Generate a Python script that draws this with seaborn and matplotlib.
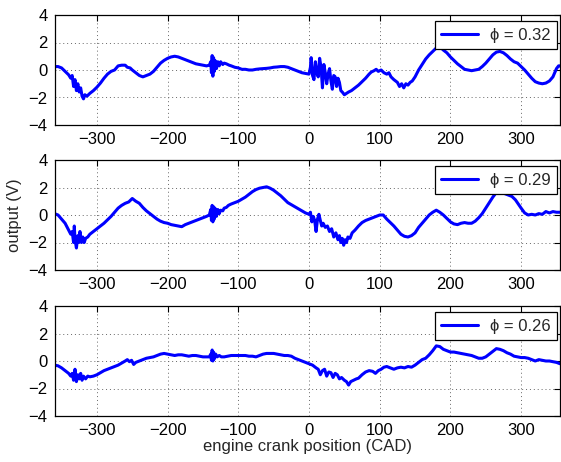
import matplotlib
matplotlib.use("Agg")
import matplotlib.pyplot as plt
import seaborn as sns
import pandas as pd

# crank angle (CAD) and sensor output (V) for each equivalence ratio
x_032 = [-360, -355, -350, -345, -340, -337, -335, -333, -331, -329, -327, -325, -323, -321, -319, -317,
         -314, -310, -305, -300, -295, -290, -285, -280, -275, -270, -265, -260, -257, -253, -250, -245,
         -240, -235, -230, -225, -220, -215, -210, -205, -200, -195, -190, -185, -180, -175, -170, -165,
         -160, -155, -150, -145, -141, -139, -138, -137, -136, -135, -134, -133, -131, -129, -127, -125,
         -122, -120, -117, -113, -110, -105, -100, -95, -90, -85, -80, -75, -70, -65, -60, -55, -50, -45,
         -40, -35, -30, -25, -20, -15, -10, -5, 0, 2, 3, 5, 7, 9, 11, 13, 15, 17, 19, 21, 23, 25, 27, 29,
         31, 33, 35, 37, 39, 41, 43, 45, 47, 50, 53, 56, 60, 65, 70, 75, 80, 85, 88, 92, 95, 98, 102, 106,
         110, 113, 116, 120, 125, 128, 131, 134, 137, 140, 143, 146, 150, 155, 160, 165, 170, 175, 180,
         185, 190, 195, 200, 205, 210, 215, 220, 225, 230, 235, 240, 245, 250, 255, 260, 265, 270, 275,
         280, 285, 290, 295, 300, 305, 310, 315, 320, 325, 330, 335, 340, 345, 350, 353, 355]
y_032 = [0.25, 0.25, 0.15, -0.1, -0.35, -0.6, -0.4, -1.2, -0.7, -1.5, -1.0, -1.6, -1.3, -1.9, -2.1, -1.8,
         -1.9, -1.7, -1.5, -1.25, -0.95, -0.6, -0.3, -0.1, 0.0, 0.3, 0.35, 0.35, 0.2, 0.15, 0.0, -0.2,
         -0.4, -0.5, -0.4, -0.3, -0.1, 0.2, 0.5, 0.7, 0.85, 0.95, 1.0, 0.95, 0.85, 0.75, 0.65, 0.55,
         0.45, 0.4, 0.35, 0.3, 0.35, 0.6, -0.2, 1.05, -0.45, 0.9, -0.1, 0.7, 0.1, 0.6, 0.3, 0.6,
         0.4, 0.5, 0.45, 0.35, 0.3, 0.2, 0.15, 0.05, 0.05, 0.0, 0.0, 0.05, 0.08, 0.1, 0.12, 0.15, 0.2, 0.22,
         0.25, 0.25, 0.2, 0.1, 0.0, -0.1, -0.2, -0.25, -0.3, 0.2, 0.9, -0.4, -0.7, 0.6, -0.2, -0.5, 0.85, 0.2,
         -1.3, 0.4, -0.2, -1.0, -0.3, 0.1, -0.8, -1.4, -0.4, -0.5, -1.2, -0.6, -0.9, -1.5, -1.6, -1.8, -1.7,
         -1.6, -1.5, -1.3, -1.1, -0.85, -0.6, -0.3, -0.15, -0.05, 0.05, -0.1, 0.0, -0.2, -0.3, -0.2, -0.5,
         -0.7, -0.9, -1.2, -1.0, -1.3, -1.0, -1.1, -0.9, -0.8, -0.5, 0.0, 0.4, 0.8, 1.1, 1.35, 1.6, 1.7,
         1.45, 1.25, 0.95, 0.7, 0.45, 0.25, 0.05, 0.0, -0.05, 0.0, 0.05, 0.25, 0.5, 0.8, 1.1, 1.3, 1.35,
         1.25, 1.05, 0.8, 0.6, 0.5, 0.25, 0.0, -0.3, -0.6, -0.85, -0.95, -1.0, -0.95, -0.8, -0.5, 0.1,
         0.3, 0.3]

x_029 = [-360, -355, -350, -345, -340, -337, -335, -333, -332, -331, -329, -327, -326, -324, -322, -320,
         -318, -316, -313, -310, -305, -300, -295, -290, -285, -280, -275, -270, -265, -260, -255, -250,
         -245, -240, -235, -230, -225, -220, -215, -210, -205, -200, -195, -190, -185, -180, -175, -170,
         -165, -160, -155, -150, -145, -141, -139, -138, -137, -136, -135, -134, -133, -131, -129, -127,
         -125, -122, -120, -117, -114, -110, -105, -100, -95, -90, -85, -80, -75, -70, -65, -60, -55, -50,
         -45, -40, -35, -30, -25, -20, -15, -10, -5, 0, 2, 4, 6, 8, 10, 12, 14, 16, 18, 20, 23, 26, 29, 32,
         35, 38, 41, 43, 45, 47, 49, 51, 53, 55, 58, 61, 65, 70, 75, 80, 85, 90, 95, 100, 105, 110, 115,
         120, 125, 130, 135, 140, 145, 150, 155, 160, 165, 170, 175, 180, 185, 190, 195, 200, 205, 210,
         215, 220, 225, 230, 235, 240, 245, 250, 255, 260, 265, 268, 272, 277, 282, 287, 292, 296, 300,
         305, 310, 315, 320, 325, 330, 335, 340, 345, 350, 355]
y_029 = [0.1, 0.0, -0.3, -0.6, -1.1, -1.4, -1.2, -2.0, -0.8, -1.8, -2.4, -1.5, -2.0, -1.2, -2.0, -1.6,
         -2.0, -1.7, -1.6, -1.4, -1.2, -1.0, -0.8, -0.6, -0.35, -0.1, 0.2, 0.5, 0.7, 0.85, 0.95, 1.2,
         1.0, 0.85, 0.55, 0.3, 0.1, -0.1, -0.3, -0.45, -0.55, -0.6, -0.7, -0.75, -0.8, -0.85, -0.7, -0.6,
         -0.5, -0.4, -0.3, -0.2, -0.1, 0.0, 0.4, -0.4, 0.7, -0.5, 0.6, -0.3, 0.5, -0.1, 0.4, 0.1,
         0.35, 0.3, 0.5, 0.55, 0.7, 0.8, 0.9, 1.0, 1.15, 1.3, 1.5, 1.7, 1.85, 1.95, 2.0, 2.05, 1.95, 1.8,
         1.6, 1.4, 1.15, 0.9, 0.75, 0.6, 0.45, 0.3, 0.15, 0.05, 0.2, -0.5, -0.1, -0.4, -1.2, -0.3, 0.05,
         -0.4, -0.8, -0.6, -0.9, -0.8, -1.2, -1.0, -1.6, -1.3, -1.8, -1.5, -2.0, -1.7, -2.2, -1.8, -2.0,
         -1.6, -1.7, -1.3, -1.1, -0.8, -0.55, -0.4, -0.3, -0.2, -0.1, 0.0, 0.0, -0.3, -0.55, -0.8, -1.1,
         -1.4, -1.55, -1.6, -1.5, -1.3, -0.9, -0.6, -0.3, 0.0, 0.2, 0.35, 0.2, 0.0, -0.25, -0.5, -0.65,
         -0.7, -0.6, -0.55, -0.6, -0.6, -0.45, -0.2, 0.1, 0.5, 0.9, 1.3, 1.65, 1.85, 1.7, 1.55, 1.45, 1.35,
         1.1, 0.8, 0.5, 0.15, 0.0, 0.05, 0.0, 0.1, 0.05, 0.25, 0.15, 0.25, 0.2, 0.2]

x_026 = [-360, -355, -350, -345, -340, -337, -335, -333, -331, -329, -327, -325, -323, -321, -319, -316,
         -313, -310, -305, -300, -295, -290, -285, -280, -275, -270, -265, -260, -257, -254, -251, -248,
         -245, -240, -235, -230, -225, -220, -215, -210, -205, -200, -195, -190, -185, -180, -175, -170,
         -165, -160, -155, -150, -145, -141, -139, -138, -137, -136, -135, -134, -132, -130, -127, -124,
         -120, -115, -110, -105, -100, -95, -90, -85, -80, -75, -70, -65, -60, -55, -50, -45, -40, -35,
         -30, -25, -20, -15, -10, -5, 0, 5, 10, 13, 16, 19, 22, 25, 28, 31, 34, 37, 40, 43, 46, 50, 53, 56,
         59, 63, 67, 70, 75, 80, 85, 90, 94, 98, 102, 106, 110, 115, 120, 125, 130, 135, 140, 145, 150,
         155, 160, 165, 170, 175, 180, 185, 190, 195, 200, 205, 210, 215, 220, 225, 230, 235, 240, 245,
         250, 255, 260, 265, 270, 275, 280, 285, 290, 295, 300, 305, 310, 315, 320, 325, 330, 335, 340,
         345, 350, 355]
y_026 = [-0.3, -0.35, -0.5, -0.7, -0.9, -1.1, -0.9, -1.4, -0.6, -1.5, -1.0, -1.3, -0.9, -1.4, -1.1, -1.3,
         -1.1, -1.15, -1.1, -1.0, -0.85, -0.7, -0.6, -0.5, -0.4, -0.3, -0.15, 0.0, 0.1, -0.05, 0.05, -0.25,
         -0.1, 0.0, 0.1, 0.2, 0.25, 0.3, 0.4, 0.5, 0.55, 0.5, 0.45, 0.4, 0.45, 0.45, 0.4, 0.35,
         0.4, 0.4, 0.35, 0.3, 0.3, 0.3, 0.5, 0.05, 0.8, 0.0, 0.65, 0.15, 0.5, 0.3, 0.4, 0.3,
         0.3, 0.35, 0.4, 0.4, 0.4, 0.4, 0.4, 0.35, 0.35, 0.3, 0.4, 0.5, 0.55, 0.55, 0.55, 0.5, 0.45, 0.4,
         0.4, 0.35, 0.2, 0.1, 0.0, -0.1, -0.2, -0.3, -0.5, -0.6, -1.0, -0.7, -0.6, -1.1, -0.8, -0.85, -1.2,
         -0.9, -1.0, -1.3, -1.2, -1.4, -1.5, -1.75, -1.5, -1.4, -1.3, -1.25, -1.0, -0.8, -0.7, -0.75, -0.9,
         -0.7, -0.6, -0.45, -0.4, -0.5, -0.6, -0.5, -0.45, -0.5, -0.4, -0.45, -0.3, -0.1, 0.1, 0.2, 0.45,
         0.75, 1.1, 1.05, 0.85, 0.75, 0.65, 0.65, 0.6, 0.55, 0.5, 0.45, 0.4, 0.3, 0.2, 0.2, 0.3, 0.5, 0.7,
         0.9, 0.85, 0.75, 0.6, 0.5, 0.35, 0.3, 0.25, 0.25, 0.2, 0.1, 0.0, 0.1, 0.05, 0.0, 0.0, -0.05,
         -0.1, -0.2]

phi_labels = ["\u03d5 = 0.32", "\u03d5 = 0.29", "\u03d5 = 0.26"]
x_ticks = [-300, -200, -100, 0, 100, 200, 300]
y_ticks = [-4, -2, 0, 2, 4]

sns.set_theme(style="white")
plt.rcParams["font.family"] = ["Liberation Sans", "DejaVu Sans"]
plt.rcParams["axes.unicode_minus"] = True

W, H = 561, 462
fig = plt.figure(figsize=(W / 100, H / 100), dpi=100)

left_px, right_px = 54.5, 560.0
panels_px = [(15, 125), (160, 270), (306, 416)]
series = [(x_032, y_032), (x_029, y_029), (x_026, y_026)]

axes = []
for (top, bottom), (xs, ys), lab in zip(panels_px, series, phi_labels):
    ax = fig.add_axes([left_px / W, 1 - bottom / H, (right_px - left_px) / W, (bottom - top) / H])
    df = pd.DataFrame({"crank": xs, "output": ys})
    sns.lineplot(data=df, x="crank", y="output", ax=ax, color="#0000ff",
                 linewidth=2.2, sort=False, estimator=None, label=lab)
    ax.set_xlim(-360, 355)
    ax.set_ylim(-4, 4)
    ax.set_xticks(x_ticks)
    ax.set_yticks(y_ticks)
    ax.set_xlabel("")
    ax.set_ylabel("")
    ax.grid(True, linestyle=(0, (1, 3)), color="0.4", linewidth=0.7)
    ax.set_axisbelow(True)
    for sp in ax.spines.values():
        sp.set_visible(True)
        sp.set_color("black")
        sp.set_linewidth(0.9)
    ax.tick_params(direction="in", top=True, right=True, length=4, width=0.8,
                   labelsize=12, pad=5, colors="black")
    leg = ax.legend(loc="upper right", bbox_to_anchor=(1 - 3 / (right_px - left_px), 1 - 6 / 110),
                    borderaxespad=0, fancybox=False, framealpha=1, edgecolor="black",
                    fontsize=12, handlelength=2.2, handletextpad=0.7, borderpad=0.4)
    leg.get_frame().set_linewidth(0.9)
    axes.append(ax)

fig.text(15 / W, 1 - 215 / H, "output (V)", rotation=90, ha="center", va="center", fontsize=12)
fig.text((left_px + right_px) / 2 / W, 1 - 447 / H, "engine crank position (CAD)",
         ha="center", va="center", fontsize=12)

fig.savefig("out.png", dpi=100)
